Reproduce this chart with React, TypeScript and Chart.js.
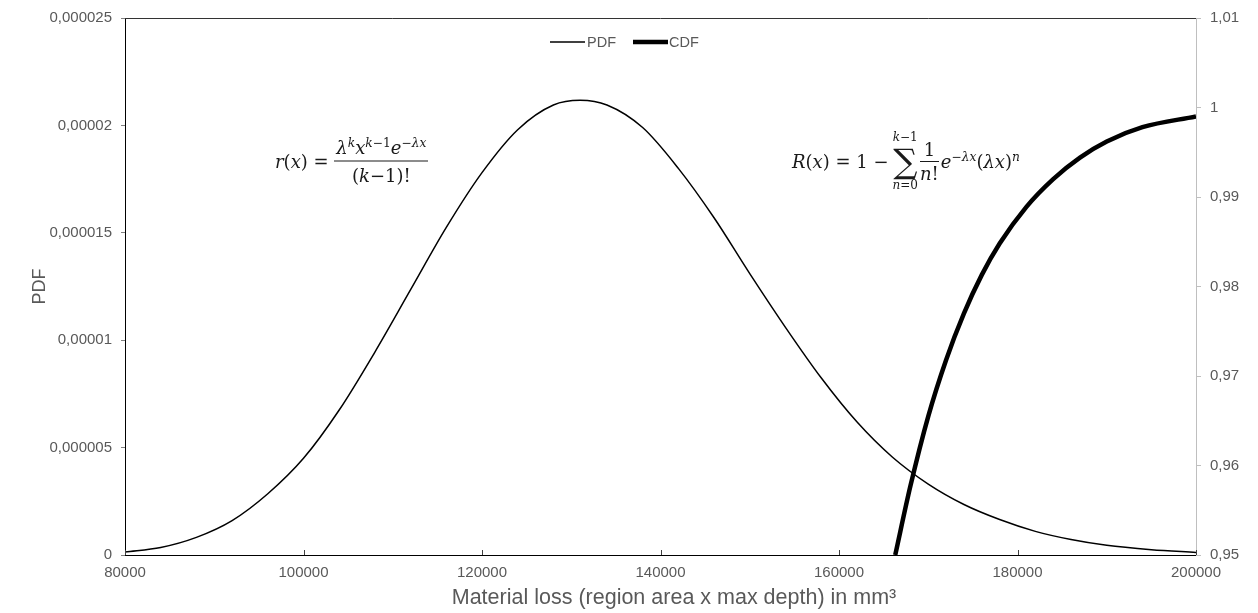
import React, { useEffect, useRef } from "react";
import { Chart, registerables } from "chart.js";

Chart.register(...registerables);

// ---- Data ----
const pdfX = [80000, 84000, 88000, 92000, 96000, 100000, 104000, 108000, 112000, 116000, 120000, 124000, 128000, 131000, 134000, 138000, 142000, 146000, 150000, 154000, 158000, 162000, 166000, 170000, 174000, 178000, 182000, 186000, 190000, 195000, 200000];
const pdfY = [0.14e-6, 0.35e-6, 0.82e-6, 1.6e-6, 2.85e-6, 4.5e-6, 6.75e-6, 9.45e-6, 12.35e-6, 15.25e-6, 17.8e-6, 19.8e-6, 20.95e-6, 21.17e-6, 20.95e-6, 19.9e-6, 18.0e-6, 15.7e-6, 13.1e-6, 10.6e-6, 8.25e-6, 6.2e-6, 4.55e-6, 3.3e-6, 2.35e-6, 1.65e-6, 1.1e-6, 0.72e-6, 0.45e-6, 0.25e-6, 0.12e-6];

const cdfX = [166300, 168000, 170000, 172000, 174000, 176000, 178000, 181000, 184000, 187000, 190000, 194000, 200000];
const cdfY = [0.95, 0.9577, 0.9655, 0.9718, 0.977, 0.9813, 0.9848, 0.9889, 0.992, 0.9944, 0.9962, 0.9978, 0.999];

const xTickValues = [80000, 100000, 120000, 140000, 160000, 180000, 200000];
const xTickLabels = ["80000", "100000", "120000", "140000", "160000", "180000", "200000"];
const leftTickValues = [0, 0.000005, 0.00001, 0.000015, 0.00002, 0.000025];
const leftTickLabels = ["0", "0,000005", "0,00001", "0,000015", "0,00002", "0,000025"];
const rightTickValues = [0.95, 0.96, 0.97, 0.98, 0.99, 1.0, 1.01];
const rightTickLabels = ["0,95", "0,96", "0,97", "0,98", "0,99", "1", "1,01"];

const seriesNames = ["PDF", "CDF"];
const xTitle = "Material loss (region area x max depth) in mm³";
const yTitle = "PDF";

const FONT = "'Liberation Sans', Arial, sans-serif";
const GRAY = "#595959";

const decorPlugin = {
  id: "decor",
  afterDraw(chart: any) {
    const { ctx, chartArea } = chart;
    const { left, right, top, bottom } = chartArea;
    const xs = chart.scales.x;
    ctx.save();
    // top border
    ctx.strokeStyle = "#333";
    ctx.lineWidth = 1;
    ctx.beginPath();
    ctx.moveTo(left, top + 0.5);
    ctx.lineTo(right, top + 0.5);
    ctx.stroke();
    // inward x ticks
    ctx.strokeStyle = "#404040";
    xTickValues.forEach((v) => {
      const px = Math.round(xs.getPixelForValue(v)) + 0.5;
      ctx.beginPath();
      ctx.moveTo(px, bottom);
      ctx.lineTo(px, bottom - 5);
      ctx.stroke();
    });
    // x axis title
    ctx.font = `21.5px ${FONT}`;
    ctx.fillStyle = GRAY;
    ctx.textAlign = "center";
    ctx.textBaseline = "middle";
    ctx.fillText(xTitle, 674, 598);
    // legend
    const ly = 42;
    ctx.font = `14.5px ${FONT}`;
    ctx.textBaseline = "middle";
    ctx.textAlign = "left";
    ctx.fillStyle = GRAY;
    ctx.strokeStyle = "#000";
    ctx.lineWidth = 1.5;
    ctx.beginPath();
    ctx.moveTo(550, ly);
    ctx.lineTo(585, ly);
    ctx.stroke();
    ctx.fillText(seriesNames[0], 587, ly + 1);
    ctx.lineWidth = 4.5;
    ctx.beginPath();
    ctx.moveTo(633, ly);
    ctx.lineTo(668, ly);
    ctx.stroke();
    ctx.fillText(seriesNames[1], 669, ly + 1);
    ctx.restore();
  },
};

const sup: React.CSSProperties = {
  fontSize: "0.68em",
  position: "relative",
  top: "-0.55em",
};

const mathFont = "'DejaVu Serif', 'Liberation Serif', serif";

function Formula1() {
  return (
    <div
      style={{
        position: "absolute",
        left: 275,
        top: 161,
        transform: "translateY(-50%)",
        display: "flex",
        alignItems: "center",
        fontFamily: mathFont,
        fontSize: 18,
        color: "#1a1a1a",
        whiteSpace: "nowrap",
      }}
    >
      <span>
        <i>r</i>(<i>x</i>) =&nbsp;
      </span>
      <span style={{ display: "inline-flex", flexDirection: "column", alignItems: "center" }}>
        <span style={{ padding: "0 2px 3px" }}>
          <i>λ</i>
          <span style={sup}><i>k</i></span>
          <i>x</i>
          <span style={sup}><i>k</i>−1</span>
          <i>e</i>
          <span style={sup}>−<i>λx</i></span>
        </span>
        <span style={{ borderTop: "1px solid #1a1a1a", alignSelf: "stretch", textAlign: "center", paddingTop: 3 }}>
          (<i>k</i>−1)!
        </span>
      </span>
    </div>
  );
}

function Formula2() {
  return (
    <div
      style={{
        position: "absolute",
        left: 792,
        top: 161,
        transform: "translateY(-50%)",
        display: "flex",
        alignItems: "center",
        fontFamily: mathFont,
        fontSize: 18,
        color: "#1a1a1a",
        whiteSpace: "nowrap",
      }}
    >
      <span>
        <i>R</i>(<i>x</i>) = 1 −
      </span>
      <span style={{ display: "inline-flex", flexDirection: "column", alignItems: "center", lineHeight: 1, marginLeft: 4 }}>
        <span style={{ fontSize: 12 }}><i>k</i>−1</span>
        <span style={{ fontSize: 34, lineHeight: "36px" }}>∑</span>
        <span style={{ fontSize: 12 }}><i>n</i>=0</span>
      </span>
      <span style={{ display: "inline-flex", flexDirection: "column", alignItems: "center", marginLeft: 2 }}>
        <span style={{ padding: "0 1px 1px" }}>1</span>
        <span style={{ borderTop: "1px solid #1a1a1a", alignSelf: "stretch", textAlign: "center", paddingTop: 1 }}>
          <i>n</i>!
        </span>
      </span>
      <span style={{ marginLeft: 2 }}>
        <i>e</i>
        <span style={sup}>−<i>λx</i></span>(<i>λx</i>)
        <span style={sup}><i>n</i></span>
      </span>
    </div>
  );
}

export default function App() {
  const canvasRef = useRef<HTMLCanvasElement | null>(null);

  useEffect(() => {
    document.body.style.margin = "0";
    const canvas = canvasRef.current;
    if (!canvas) return;

    const chart = new Chart(canvas, {
      type: "line",
      data: {
        datasets: [
          {
            label: seriesNames[0],
            data: pdfX.map((x, i) => ({ x, y: pdfY[i] })),
            yAxisID: "y",
            borderColor: "#000",
            borderWidth: 1.5,
            pointRadius: 0,
            fill: false,
            cubicInterpolationMode: "monotone",
          },
          {
            label: seriesNames[1],
            data: cdfX.map((x, i) => ({ x, y: cdfY[i] })),
            yAxisID: "y1",
            borderColor: "#000",
            borderWidth: 4.5,
            pointRadius: 0,
            fill: false,
            cubicInterpolationMode: "monotone",
          },
        ],
      },
      options: {
        animation: false,
        responsive: false,
        maintainAspectRatio: false,
        layout: { padding: { top: 15, left: 0, right: 0, bottom: 0 } },
        plugins: {
          legend: { display: false },
          tooltip: { enabled: false },
        },
        scales: {
          x: {
            type: "linear",
            position: "bottom",
            min: 80000,
            max: 200000,
            afterBuildTicks: (s: any) => {
              s.ticks = xTickValues.map((v) => ({ value: v }));
            },
            afterFit: (s: any) => {
              s.height = 58;
            },
            grid: { display: false, drawTicks: false },
            border: { display: true, color: "#000", width: 1 },
            ticks: {
              color: GRAY,
              font: { family: FONT, size: 15 },
              padding: 9,
              maxRotation: 0,
              autoSkip: false,
              callback: (_v: any, i: number) => xTickLabels[i],
            },
            title: { display: false },
          },
          y: {
            type: "linear",
            position: "left",
            min: 0,
            max: 0.000025,
            afterBuildTicks: (s: any) => {
              s.ticks = leftTickValues.map((v) => ({ value: v }));
            },
            afterFit: (s: any) => {
              s.width = 125;
            },
            grid: { drawOnChartArea: false, drawTicks: true, tickLength: 4, color: "#808080" },
            border: { display: true, color: "#000", width: 1 },
            ticks: {
              color: GRAY,
              font: { family: FONT, size: 15 },
              padding: 9,
              autoSkip: false,
              callback: (_v: any, i: number) => leftTickLabels[i],
            },
            title: {
              display: true,
              text: yTitle,
              color: GRAY,
              font: { family: FONT, size: 18 },
              padding: { top: 29, bottom: 0 },
            },
          },
          y1: {
            type: "linear",
            position: "right",
            min: 0.95,
            max: 1.01,
            afterBuildTicks: (s: any) => {
              s.ticks = rightTickValues.map((v) => ({ value: v }));
            },
            afterFit: (s: any) => {
              s.width = 62;
            },
            grid: { drawOnChartArea: false, drawTicks: true, tickLength: 5, color: "#bfbfbf" },
            border: { display: true, color: "#bfbfbf", width: 1 },
            ticks: {
              color: GRAY,
              font: { family: FONT, size: 15 },
              padding: 9,
              autoSkip: false,
              callback: (_v: any, i: number) => rightTickLabels[i],
            },
          },
        },
      },
      plugins: [decorPlugin],
    });

    return () => chart.destroy();
  }, []);

  return (
    <div style={{ position: "relative", width: 1258, height: 613, background: "#fff" }}>
      <canvas ref={canvasRef} width={1258} height={613} style={{ display: "block" }} />
      <Formula1 />
      <Formula2 />
    </div>
  );
}
